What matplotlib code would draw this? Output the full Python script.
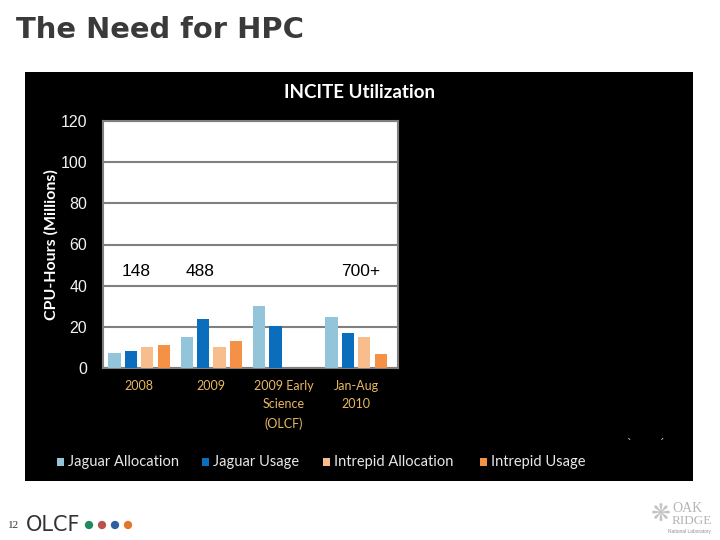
import numpy as np
import matplotlib
matplotlib.use("Agg")
import matplotlib.pyplot as plt
from matplotlib.patches import Rectangle

categories = ["2008", "2009", "2009 Early\nScience\n(OLCF)", "Jan-Aug\n2010"]
jaguar_allocation = [7.5, 15, 30, 25]
jaguar_usage = [8.5, 24, 20.5, 17]
intrepid_allocation = [10, 10, 0, 15]
intrepid_usage = [11, 13, 0, 7]
series_names = ["Jaguar Allocation", "Jaguar Usage", "Intrepid Allocation", "Intrepid Usage"]
series_colors = ["#92c5da", "#0a6ebd", "#f8bd8c", "#f59146"]
totals = ["148", "488", "700+"]
total_positions = [-0.04, 0.84, 3.07]
y_ticks = [0, 20, 40, 60, 80, 100, 120]

W, H = 720, 540
fig = plt.figure(figsize=(7.2, 5.4), dpi=100, facecolor="white")
def fx(p): return p / W
def fy(p): return 1 - p / H

fig.add_artist(Rectangle((fx(25), fy(481)), fx(668), 409 / H, transform=fig.transFigure,
                         facecolor="black", edgecolor="none", zorder=-5))

ax = fig.add_axes([fx(103), fy(368), 295 / W, 247 / H], facecolor="white")
series = [jaguar_allocation, jaguar_usage, intrepid_allocation, intrepid_usage]
x = np.arange(len(categories))
step, width = 0.227, 0.17
for i, vals in enumerate(series):
    ax.bar(x + (i - 1.5) * step, vals, width, color=series_colors[i], zorder=3)
ax.set_xlim(-0.498, 3.58)
ax.set_ylim(0, 120)
ax.set_yticks(y_ticks)
ax.set_xticks(x)
ax.set_xticklabels(categories, family="Lato", fontsize=9, color="#e9b95f", linespacing=1.65)
ax.tick_params(axis="x", length=0, pad=8.5)
ax.tick_params(axis="y", length=0, pad=11.5, labelcolor="#f2f2f2", labelsize=11.5)
for lab in ax.get_yticklabels():
    lab.set_family("Liberation Sans")
ax.grid(axis="y", color="#808080", lw=1.5, zorder=1)
ax.set_axisbelow(True)
for s in ax.spines.values():
    s.set_color("#808080")
    s.set_linewidth(1.5)
ax.set_ylabel("CPU-Hours (Millions)", family="Lato", weight="bold", color="white",
              fontsize=11.5, labelpad=0)
ax.yaxis.set_label_coords((59 - 103) / 295, 0.5)

for lbl, pos in zip(totals, total_positions):
    ax.text(pos, 47, lbl, family="Liberation Sans", fontsize=12.5, color="black",
            ha="center", va="center", zorder=4)

fig.text(fx(359), fy(92), "INCITE Utilization", family="Lato", weight="bold", fontsize=13.5,
         color="white", ha="center", va="center")
fig.text(fx(16), fy(30), "The Need for HPC", family="DejaVu Sans", weight="bold", fontsize=20.9,
         color="#3a3a3a", ha="left", va="center")

legend_x = [57, 202, 323, 480]
for name, col, lx in zip(series_names, series_colors, legend_x):
    fig.add_artist(Rectangle((fx(lx), fy(466)), 7 / W, 8 / H, transform=fig.transFigure,
                             facecolor=col, edgecolor="none"))
    fig.text(fx(lx + 11), fy(462), name, family="Lato", fontsize=10.5, color="#e8e8e8",
             ha="left", va="center")

for sx, mark in [(629, "`"), (662, "´")]:
    fig.text(fx(sx), fy(444), mark, family="DejaVu Sans", fontsize=8, color="#e9d9a0",
             ha="center", va="center")

# footer
fig.text(fx(8), fy(526), "12", family="Liberation Serif", fontsize=8, color="#333333",
         ha="left", va="center")
fig.text(fx(26), fy(525), "OLCF", family="DejaVu Sans", fontsize=15, color="#333333",
         ha="left", va="center")
dots = fig.add_axes([0, 0, 1, 1], facecolor="none")
dots.set_xlim(0, W); dots.set_ylim(H, 0); dots.axis("off")
dots.scatter([89, 102, 115, 128], [525, 525, 525, 525], s=36,
             c=["#1f8a5f", "#b8524f", "#2f5f9e", "#e0762c"], linewidths=0)
fig.text(fx(661), fy(514), "❋", family="DejaVu Sans", fontsize=17, color="#c4c4c4",
         ha="center", va="center")
for txt, yy, fs in [("OAK", 509, 10), ("RIDGE", 521, 9.5)]:
    fig.text(fx(672), fy(yy), txt, family="Liberation Serif", fontsize=fs, color="#b5b5b5",
             ha="left", va="center")
fig.text(fx(711), fy(531), "National Laboratory", family="Liberation Sans", fontsize=3.5, color="#909090",
         ha="right", va="center")

fig.savefig("out.png", dpi=100, facecolor="white")
